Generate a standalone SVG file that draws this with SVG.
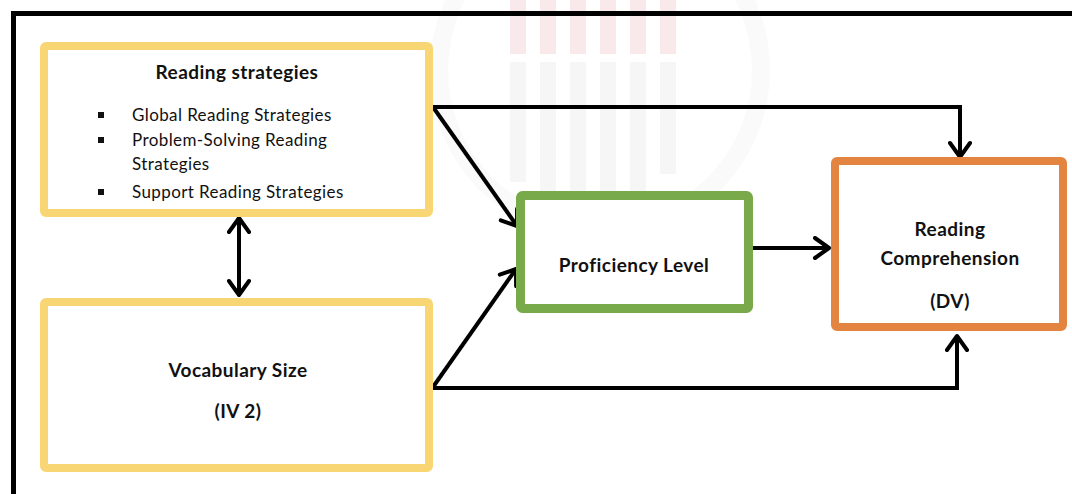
<svg xmlns="http://www.w3.org/2000/svg" width="1072" height="494" viewBox="0 0 1072 494">
  <style>
    .box { fill: #ffffff; stroke-width: 8; stroke-linejoin: round; }
    .yellow { stroke: #F8D673; }
    .green { stroke: #78A94B; stroke-width: 9; }
    .orange { stroke: #E38540; }
    .lbl { font-family: Lato, "Open Sans", "Liberation Sans", sans-serif; fill: #111111; }
    .b { font-weight: bold; font-size: 19px; letter-spacing: 0.45px; }
    .r { font-size: 17px; letter-spacing: 0.4px; }
    .mid { text-anchor: middle; }
    .conn { fill: none; stroke: #000000; stroke-width: 4; stroke-linejoin: miter; }
  </style>
  <defs>
    <marker id="head" viewBox="0 0 20 24" markerWidth="20" markerHeight="24" refX="17" refY="12" orient="auto-start-reverse" markerUnits="userSpaceOnUse">
      <path d="M3,2 L17,12 L3,22" fill="none" stroke="#000000" stroke-width="4" stroke-linecap="round" stroke-linejoin="round"/>
    </marker>
  </defs>

  <rect x="0" y="0" width="1072" height="494" fill="#ffffff"/>

  <!-- faint background emblem -->
  <g id="emblem" opacity="0.4">
    <circle cx="600" cy="70" r="170" fill="#f3f3f3"/>
    <circle cx="600" cy="70" r="152" fill="#ffffff"/>
    <g fill="#f1c9cf">
      <rect x="510" y="0" width="16" height="54"/>
      <rect x="540" y="0" width="16" height="54"/>
      <rect x="570" y="0" width="16" height="54"/>
      <rect x="600" y="0" width="16" height="54"/>
      <rect x="630" y="0" width="16" height="54"/>
      <rect x="660" y="0" width="16" height="54"/>
    </g>
    <g fill="#ebebeb">
      <rect x="510" y="62" width="16" height="120"/>
      <rect x="540" y="62" width="16" height="135"/>
      <rect x="570" y="62" width="16" height="140"/>
      <rect x="600" y="62" width="16" height="140"/>
      <rect x="630" y="62" width="16" height="130"/>
      <rect x="660" y="62" width="16" height="112"/>
    </g>
  </g>

  <!-- outer frame -->
  <path d="M13.5,494 V13.5 H1072" fill="none" stroke="#000000" stroke-width="5"/>

  <g id="connectors">
    <path class="conn" d="M433,107 H960 V157" marker-end="url(#head)"/>
    <path class="conn" d="M433,107 L517,226" marker-end="url(#head)"/>
    <path class="conn" d="M433,387 L516,269" marker-end="url(#head)"/>
    <path class="conn" d="M753,248 H829" marker-end="url(#head)"/>
    <path class="conn" d="M433,388 H957 V336" marker-end="url(#head)"/>
    <path class="conn" d="M239,218 V295" marker-start="url(#head)" marker-end="url(#head)"/>
  </g>

  <g id="reading-strategies">
    <rect class="box yellow" x="44" y="46" width="385" height="167" rx="2"/>
    <text class="lbl b mid" x="237" y="79">Reading strategies</text>
    <g fill="#111111">
      <rect x="98" y="112" width="6" height="6"/>
      <rect x="98" y="137" width="6" height="6"/>
      <rect x="98" y="189" width="6" height="6"/>
    </g>
    <text class="lbl r" x="132" y="121">Global Reading Strategies</text>
    <text class="lbl r" x="132" y="146">Problem-Solving Reading</text>
    <text class="lbl r" x="132" y="170">Strategies</text>
    <text class="lbl r" x="132" y="198">Support Reading Strategies</text>
  </g>

  <g id="vocabulary-size">
    <rect class="box yellow" x="44" y="302" width="385" height="166" rx="2"/>
    <text class="lbl b mid" x="238" y="377">Vocabulary Size</text>
    <text class="lbl b mid" x="238" y="418">(IV 2)</text>
  </g>

  <g id="proficiency-level">
    <rect class="box green" x="520.5" y="195.5" width="228" height="113" rx="2"/>
    <text class="lbl b mid" x="634" y="272">Proficiency Level</text>
  </g>

  <g id="reading-comprehension">
    <rect class="box orange" x="835" y="161" width="228" height="166" rx="2"/>
    <text class="lbl b mid" x="950" y="236">Reading</text>
    <text class="lbl b mid" x="950" y="265">Comprehension</text>
    <text class="lbl b mid" x="950" y="308">(DV)</text>
  </g>
</svg>
